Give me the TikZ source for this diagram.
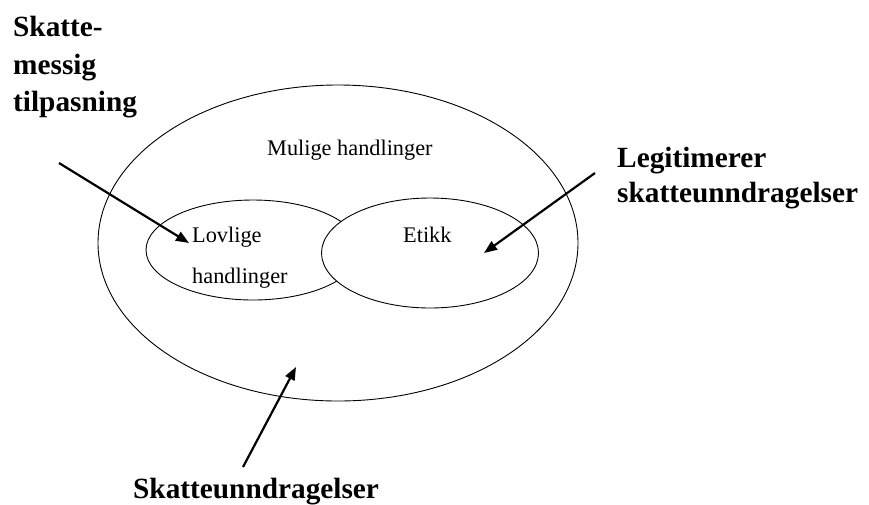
\documentclass[tikz,border=0pt]{standalone}
\usepackage{fontspec}
\setmainfont{Liberation Serif}
\usetikzlibrary{arrows.meta,shapes.geometric}
\tikzset{
  region/.style={draw=black, line width=0.9pt, ellipse, inner sep=0pt},
  bigtext/.style={font=\fontsize{29.3}{37}\selectfont\bfseries, inner sep=0pt, align=left},
  smalltext/.style={font=\fontsize{22.3}{41}\selectfont, inner sep=0pt, align=left},
  pointer/.style={line width=2.2pt, -{Triangle[length=13pt,width=10pt]}}
}
\begin{document}
\begin{tikzpicture}[x=1pt,y=-1pt]
\useasboundingbox (0,0) rectangle (869,504);
\node[region, minimum width=480pt, minimum height=316pt] (outer) at (338,243) {};
\node[region, minimum width=214pt, minimum height=100pt] (lovlig) at (253,250) {};
\node[region, fill=white, minimum width=217pt, minimum height=110pt] (etikk) at (430,253) {};
\node[smalltext, anchor=base west] (mulige) at (267,155) {Mulige handlinger};
\node[smalltext, anchor=base west] (etikktxt) at (403,242) {Etikk};
\node[smalltext, anchor=base west] (lovtxt) at (192,242) {Lovlige};
\node[smalltext, anchor=base west] (handtxt) at (192,283) {handlinger};
\node[bigtext, anchor=base west] (sk1) at (13,36) {Skatte-};
\node[bigtext, anchor=base west] (sk2) at (13,74) {messig};
\node[bigtext, anchor=base west] (sk3) at (13,111) {tilpasning};
\node[bigtext, anchor=base west] (leg1) at (617,167) {Legitimerer};
\node[bigtext, anchor=base west] (leg2) at (617,202) {skatteunndragelser};
\node[bigtext, anchor=base west] (sku) at (133,498) {Skatteunndragelser};
\coordinate (a1s) at (59,163);
\coordinate (a1e) at (189,243);
\coordinate (a2s) at (595,173);
\coordinate (a2e) at (484,253);
\coordinate (a3s) at (243,467);
\coordinate (a3e) at (296,367);
\draw[pointer] (a1s) -- (a1e);
\draw[pointer] (a2s) -- (a2e);
\draw[pointer] (a3s) -- (a3e);
\end{tikzpicture}
\end{document}
